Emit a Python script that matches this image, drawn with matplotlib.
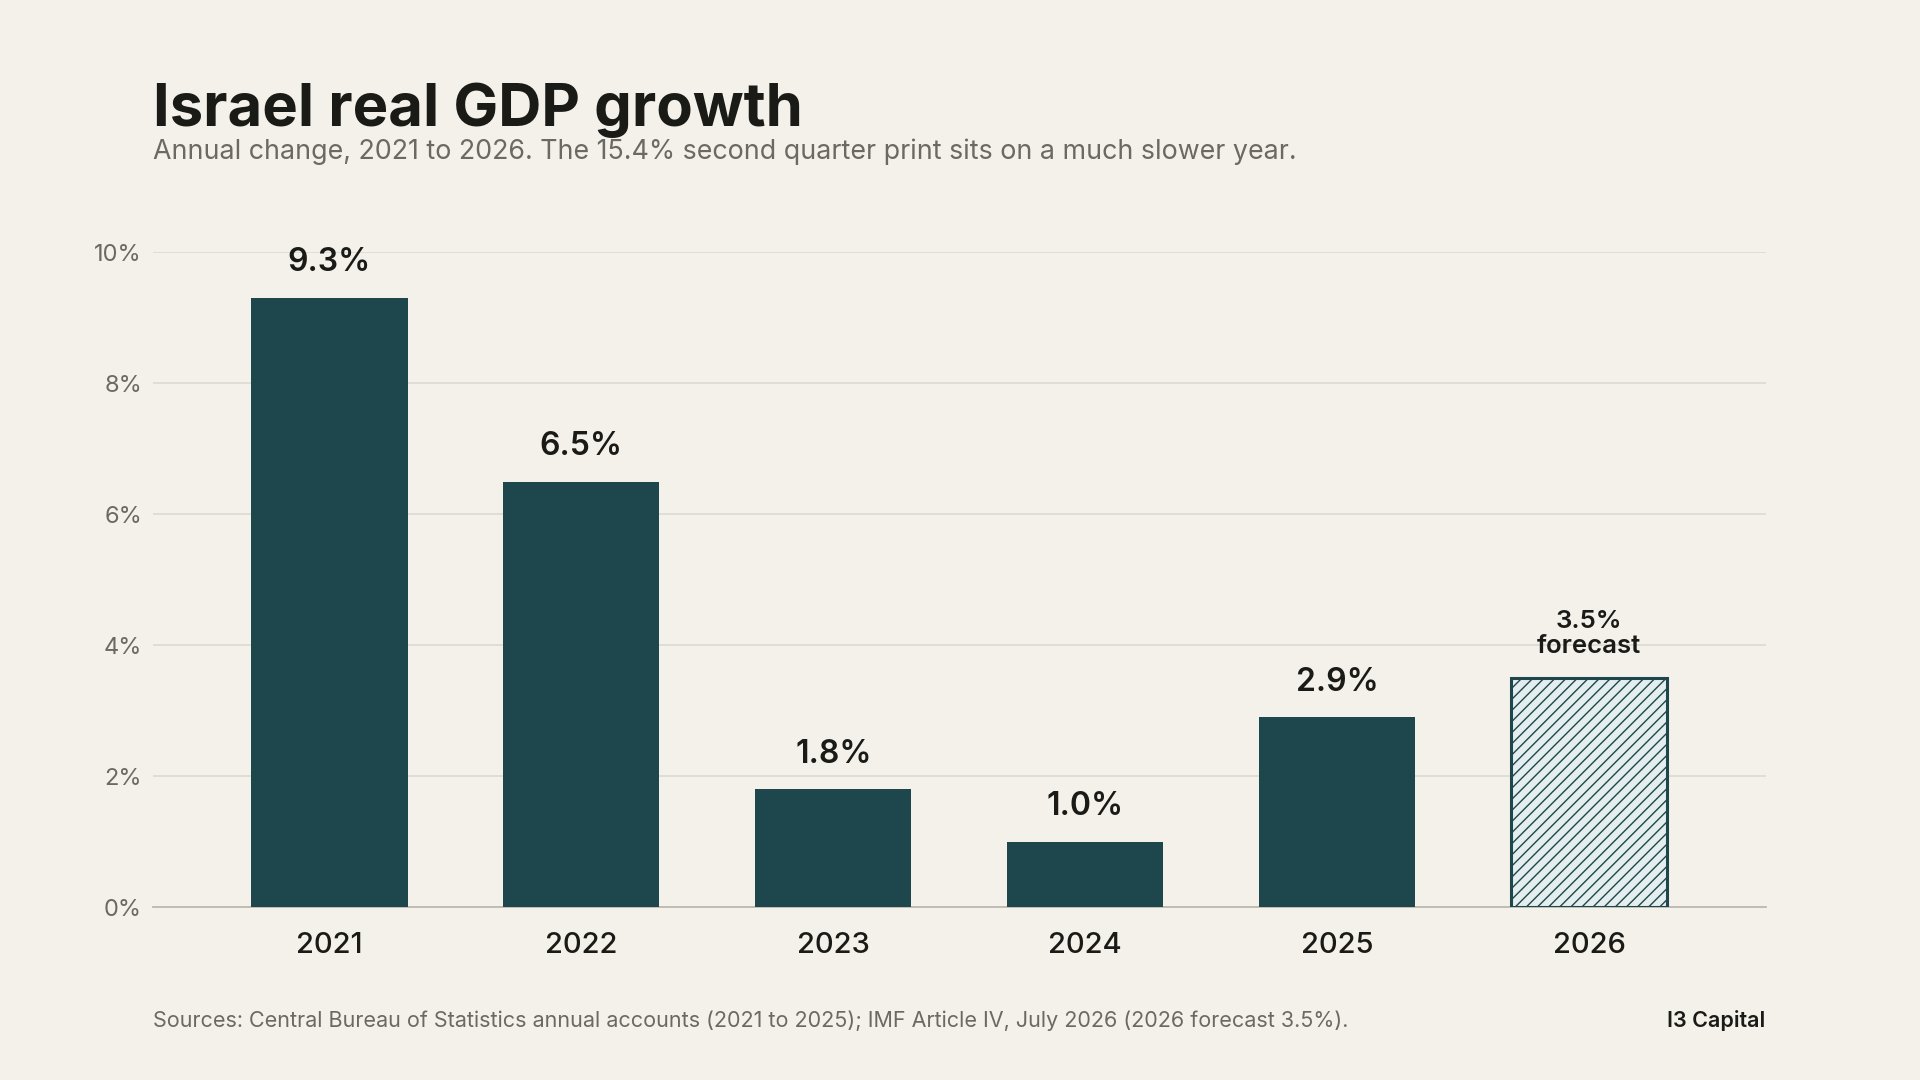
import matplotlib
matplotlib.use("Agg")
import matplotlib.pyplot as plt

years = ["2021", "2022", "2023", "2024", "2025", "2026"]
growth = [9.3, 6.5, 1.8, 1.0, 2.9, 3.5]
forecast = [False, False, False, False, False, True]
yticks = [0, 2, 4, 6, 8, 10]

plt.rcParams['font.family'] = ['Inter', 'DejaVu Sans']
plt.rcParams['hatch.color'] = "#1D474D"
BG = "#F4F1EA"; BAR = "#1D474D"; GRAY = "#6B6964"; DARK = "#1A1A17"

fig = plt.figure(figsize=(19.2, 10.8), dpi=100, facecolor=BG)
ax = fig.add_axes([0.0797, 0.1599, 0.9196 - 0.0797, 0.7664 - 0.1599], facecolor=BG)
x = list(range(len(years)))
for xi, v, f in zip(x, growth, forecast):
    if f:
        ax.bar(xi, v, width=0.62, facecolor="#E4EEEE", edgecolor=BAR, hatch="///", linewidth=2.2, zorder=3)
        ax.text(xi, v + 0.3, f"{v:.1f}%\nforecast", ha="center", va="bottom", fontsize=18.5,
                fontweight="semibold", color=DARK, linespacing=1.15)
    else:
        ax.bar(xi, v, width=0.62, color=BAR, zorder=3)
        ax.text(xi, v + 0.3, f"{v:.1f}%", ha="center", va="bottom", fontsize=23,
                fontweight="semibold", color=DARK)
ax.set_ylim(0, 10)
ax.set_xlim(-0.7, 5.7)
ax.set_yticks(yticks)
ax.set_yticklabels([f"{t}%" for t in yticks], fontsize=17, color=GRAY)
ax.set_xticks(x)
ax.set_xticklabels(years, fontsize=21, color=DARK, fontweight="medium")
ax.tick_params(length=0)
ax.tick_params(axis="x", pad=18)
ax.tick_params(axis="y", pad=8)
ax.grid(axis="y", color="#DDD9D1", linewidth=1.2, zorder=0)
for s in ["top", "right", "left"]:
    ax.spines[s].set_visible(False)
ax.spines["bottom"].set_color("#BDB9B2")
ax.spines["bottom"].set_linewidth(1.3)

fig.text(0.0797, 0.883, "Israel real GDP growth", fontsize=43, fontweight="bold", color=DARK, va="baseline")
fig.text(0.0797, 0.853, "Annual change, 2021 to 2026. The 15.4% second quarter print sits on a much slower year.",
         fontsize=19.3, color=GRAY, va="baseline")
fig.text(0.0797, 0.049, "Sources: Central Bureau of Statistics annual accounts (2021 to 2025); IMF Article IV, July 2026 (2026 forecast 3.5%).",
         fontsize=15.5, color=GRAY, va="baseline")
fig.text(0.9196, 0.049, "I3 Capital", fontsize=15.5, fontweight="semibold", color=DARK, va="baseline", ha="right")
fig.savefig("out.png", dpi=100, facecolor=BG)
